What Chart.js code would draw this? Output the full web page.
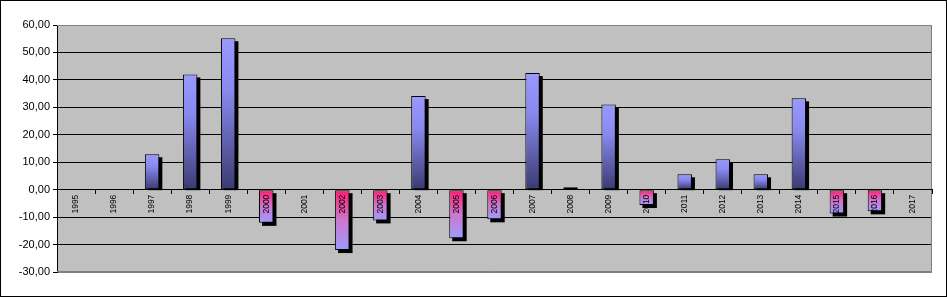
<!DOCTYPE html>
<html>
<head>
<meta charset="utf-8">
<script src="https://cdn.jsdelivr.net/npm/chart.js@4/dist/chart.umd.min.js"></script>
<style>
html,body{margin:0;padding:0;background:#fff;}
#wrap{width:947px;height:297px;position:relative;}
</style>
</head>
<body>
<div id="wrap"><canvas id="c" width="947" height="297"></canvas></div>
<script>
const years = ['1995','1996','1997','1998','1999','2000','2001','2002','2003','2004','2005','2006','2007','2008','2009','2010','2011','2012','2013','2014','2015','2016','2017'];
const values = [null, null, 12.9, 42.0, 55.2, -12.1, null, -22.0, -11.2, 34.1, -17.7, -10.8, 42.5, 0.9, 31.0, -5.6, 5.6, 11.1, 5.6, 33.3, -8.7, -7.9, null];
const yMin = -30, yMax = 60, yStep = 10;

const framePlugin = {
  id: 'frame',
  beforeDraw(chart) {
    const {ctx, chartArea: a, width, height} = chart;
    ctx.save();
    ctx.fillStyle = '#ffffff';
    ctx.fillRect(0, 0, width, height);
    ctx.fillStyle = '#C0C0C0';
    ctx.fillRect(a.left, a.top, a.right - a.left, a.bottom - a.top);
    ctx.strokeStyle = '#000';
    ctx.lineWidth = 1;
    ctx.strokeRect(0.5, 0.5, width - 1, height - 1);
    ctx.restore();
  },
  beforeDatasetsDraw(chart) {
    const {ctx, chartArea: a} = chart;
    ctx.save();
    ctx.strokeStyle = '#808080';
    ctx.lineWidth = 1;
    ctx.beginPath();
    ctx.moveTo(a.left, Math.round(a.top) + 0.5);
    ctx.lineTo(Math.round(a.right) - 0.5, Math.round(a.top) + 0.5);
    ctx.lineTo(Math.round(a.right) - 0.5, Math.round(a.bottom) - 0.5);
    ctx.lineTo(a.left, Math.round(a.bottom) - 0.5);
    ctx.stroke();
    // hard shadows of bars, from the library's own element geometry
    const meta = chart.getDatasetMeta(0);
    ctx.fillStyle = '#000';
    meta.data.forEach((el, i) => {
      if (values[i] === null) return;
      const p = el.getProps(['x', 'y', 'base', 'width'], true);
      const left = p.x - p.width / 2 + 3;
      const off = 3;
      if (values[i] >= 0) {
        ctx.fillRect(left, p.y + off, p.width, p.base - p.y - off + 1);
      } else {
        ctx.fillRect(left, p.base + off, p.width, p.y - p.base);
      }
    });
    ctx.restore();
  }
};

function barFill(c) {
  const chart = c.chart;
  const v = values[c.dataIndex];
  if (!chart.chartArea || v === null || v === undefined) return '#9999FF';
  const ys = chart.scales.y;
  const y0 = ys.getPixelForValue(0);
  const y1 = ys.getPixelForValue(v);
  const g = chart.ctx.createLinearGradient(0, Math.min(y0, y1), 0, Math.max(y0, y1));
  if (v >= 0) {
    g.addColorStop(0, '#9999FF');
    g.addColorStop(0.35, '#8888EE');
    g.addColorStop(1, '#3A3A70');
  } else {
    g.addColorStop(0, '#FF1A70');
    g.addColorStop(0.5, '#CC77CC');
    g.addColorStop(1, '#9C9CFF');
  }
  return g;
}

new Chart(document.getElementById('c'), {
  type: 'bar',
  data: {
    labels: years,
    datasets: [{
      data: values,
      backgroundColor: barFill,
      borderColor: '#000',
      borderWidth: 1,
      borderSkipped: false,
      barPercentage: 0.38,
      categoryPercentage: 1.0
    }]
  },
  options: {
    responsive: false,
    animation: false,
    devicePixelRatio: 1,
    layout: {padding: {top: 25, right: 15, bottom: 25, left: 0}},
    plugins: {legend: {display: false}, tooltip: {enabled: false}},
    scales: {
      x: {
        position: {y: 0},
        grid: {display: true, drawOnChartArea: false, drawTicks: true, tickLength: 4, color: '#000', offset: true, z: 1},
        border: {display: true, color: '#000', width: 1, z: 1},
        ticks: {
          z: 2,
          autoSkip: false,
          maxRotation: 90,
          minRotation: 90,
          padding: 1,
          color: '#000',
          font: {family: 'Liberation Sans', size: 8.5}
        }
      },
      y: {
        min: yMin,
        max: yMax,
        afterFit(s) { s.width = 57; },
        grid: {
          color: (c) => (c.tick && (c.tick.value === yMax || c.tick.value === yMin)) ? '#808080' : '#000',
          tickColor: '#000',
          tickLength: 4,
          lineWidth: 1
        },
        border: {display: true, color: '#000', width: 1},
        ticks: {
          stepSize: yStep,
          padding: 3,
          color: '#000',
          font: {family: 'Liberation Sans', size: 11},
          callback: (v) => v.toFixed(2).replace('.', ',')
        }
      }
    }
  },
  plugins: [framePlugin]
});
</script>
</body>
</html>
